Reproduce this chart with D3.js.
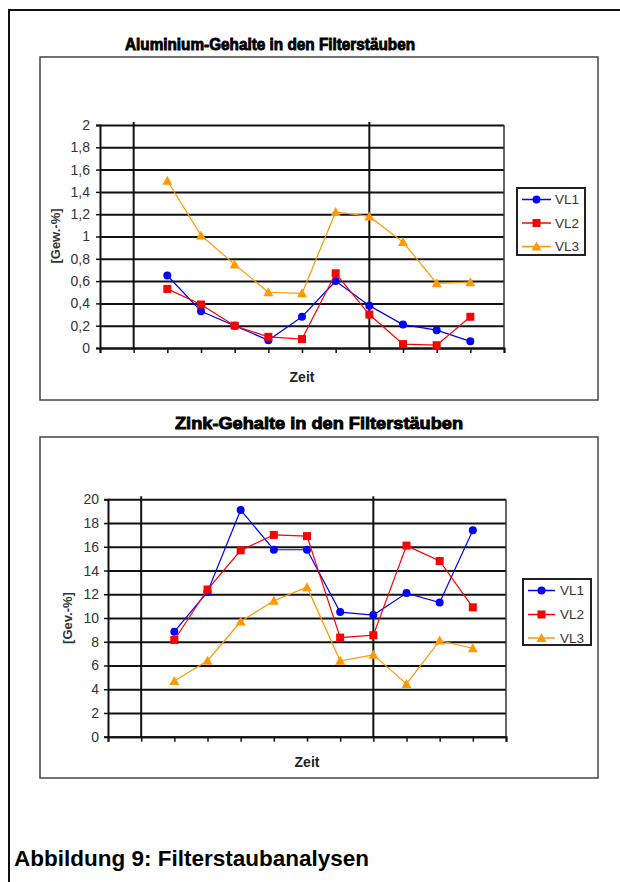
<!DOCTYPE html>
<html>
<head>
<meta charset="utf-8">
<script src="https://cdn.jsdelivr.net/npm/d3@7"></script>
<style>
  html, body { margin: 0; padding: 0; background: #fff; }
  svg { display: block; }
  text { font-family: "Liberation Sans", Arial, sans-serif; }
</style>
</head>
<body>
<svg id="chart" width="620" height="882"></svg>
<script>
// ---------- data ----------
const categories = ["P0", "P1", "P2", "P3", "P4", "P5", "P6", "P7", "P8", "P9", "P10", "P11", "P12"];
const seriesNames = ["VL1", "VL2", "VL3"];
const seriesColors = ["#0000FF", "#FF0000", "#FF9900"];

const alVL1 = [null, null, 0.65, 0.33, 0.20, 0.07, 0.28, 0.60, 0.38, 0.21, 0.16, 0.06, null];
const alVL2 = [null, null, 0.53, 0.39, 0.20, 0.10, 0.08, 0.67, 0.30, 0.035, 0.025, 0.28, null];
const alVL3 = [null, null, 1.50, 1.01, 0.75, 0.50, 0.49, 1.22, 1.18, 0.95, 0.58, 0.59, null];

const znVL1 = [null, null, 8.85, 12.2, 19.1, 15.75, 15.75, 10.5, 10.25, 12.1, 11.3, 17.4, null];
const znVL2 = [null, null, 8.15, 12.4, 15.7, 17.0, 16.9, 8.35, 8.55, 16.1, 14.8, 10.9, null];
const znVL3 = [null, null, 4.7, 6.4, 9.7, 11.45, 12.6, 6.4, 6.9, 4.45, 8.1, 7.45, null];

const alTicks = [0, 0.2, 0.4, 0.6, 0.8, 1, 1.2, 1.4, 1.6, 1.8, 2];
const znTicks = [0, 2, 4, 6, 8, 10, 12, 14, 16, 18, 20];
const verticalGridCats = ["P1", "P8"];

const alTitle = "Aluminium-Gehalte  in den Filterstäuben";
const znTitle = "Zink-Gehalte in den Filterstäuben";
const alYTitle = "[Gew.-%]";
const znYTitle = "[Gev.-%]";
const xTitle = "Zeit";
const caption = "Abbildung 9: Filterstaubanalysen";

// ---------- drawing ----------
const svg = d3.select("#chart");

// outer frame
svg.append("path")
  .attr("d", "M9,882 V10 H620")
  .attr("fill", "none").attr("stroke", "#111").attr("stroke-width", 2);

const fmt = d => String(+(+d).toFixed(1)).replace(".", ",");

function drawChart(cfg) {
  const g = svg.append("g");
  // chart box
  g.append("rect")
    .attr("x", cfg.box[0]).attr("y", cfg.box[1])
    .attr("width", cfg.box[2] - cfg.box[0]).attr("height", cfg.box[3] - cfg.box[1])
    .attr("fill", "#fff").attr("stroke", "#444").attr("stroke-width", 1.5);

  // title
  g.append("text")
    .attr("x", cfg.titlePos[0]).attr("y", cfg.titlePos[1])
    .attr("text-anchor", "middle")
    .attr("dominant-baseline", "central")
    .attr("font-family", "'Liberation Sans Narrow', 'DejaVu Sans Condensed', Arial, sans-serif")
    .attr("font-weight", "bold")
    .attr("font-size", 17)
    .attr("textLength", cfg.titleWidth)
    .attr("lengthAdjust", "spacingAndGlyphs")
    .attr("fill", "#000")
    .style("stroke", "#000").style("stroke-width", 0.9)
    .text(cfg.title);

  const [L, T, R, B] = cfg.plot;
  const x = d3.scalePoint().domain(categories).range([L, R]).padding(0);
  const y = d3.scaleLinear().domain([cfg.ticks[0], cfg.ticks[cfg.ticks.length - 1]]).range([B, T]);

  // horizontal gridlines
  g.append("g")
    .attr("transform", `translate(${L},0)`)
    .call(d3.axisLeft(y).tickValues(cfg.ticks).tickSize(-(R - L)).tickFormat(""))
    .call(s => s.select(".domain").remove())
    .call(s => s.selectAll("line").attr("stroke", "#111").attr("stroke-width", 2));

  // vertical gridlines
  g.selectAll(".vgrid").data(verticalGridCats).enter().append("line")
    .attr("x1", d => x(d)).attr("x2", d => x(d))
    .attr("y1", T - 3).attr("y2", B)
    .attr("stroke", "#111").attr("stroke-width", 2);

  // right border of plot area
  g.append("line")
    .attr("x1", R).attr("x2", R).attr("y1", T).attr("y2", B)
    .attr("stroke", "#333").attr("stroke-width", 1.5);

  // y axis
  g.append("g")
    .attr("transform", `translate(${L},0)`)
    .call(d3.axisLeft(y).tickValues(cfg.ticks).tickSize(4).tickPadding(cfg.labelPad).tickFormat(fmt))
    .call(s => s.select(".domain").attr("stroke", "#111").attr("stroke-width", 2))
    .call(s => s.selectAll("line").attr("stroke", "#111").attr("stroke-width", 1.5))
    .call(s => s.selectAll("text")
      .attr("font-family", "'Liberation Sans', Arial, sans-serif")
      .attr("font-size", 14).attr("fill", "#333"));

  // x axis (category labels not visible in the original)
  g.append("g")
    .attr("transform", `translate(0,${B})`)
    .call(d3.axisBottom(x).tickSize(5).tickFormat(""))
    .call(s => s.select(".domain").attr("stroke", "#111").attr("stroke-width", 2))
    .call(s => s.selectAll("line").attr("stroke", "#111").attr("stroke-width", 1.5));

  // axis titles
  g.append("text")
    .attr("x", cfg.xTitlePos[0]).attr("y", cfg.xTitlePos[1])
    .attr("text-anchor", "middle").attr("dominant-baseline", "central")
    .attr("font-size", 14).attr("font-weight", "bold").attr("fill", "#222")
    .text(xTitle);
  g.append("text")
    .attr("transform", `translate(${cfg.yTitlePos[0]},${cfg.yTitlePos[1]}) rotate(-90)`)
    .attr("text-anchor", "middle").attr("dominant-baseline", "central")
    .attr("font-size", 13).attr("font-weight", "bold").attr("fill", "#333")
    .text(cfg.yTitle);

  // series
  const line = d3.line()
    .defined(d => d.v != null)
    .x(d => x(d.c)).y(d => y(d.v));

  cfg.series.forEach((vals, i) => {
    const pts = vals.map((v, k) => ({ c: categories[k], v }));
    g.append("path").datum(pts)
      .attr("d", line).attr("fill", "none")
      .attr("stroke", seriesColors[i]).attr("stroke-width", 1.2);
    const valid = pts.filter(d => d.v != null);
    drawMarkers(g, valid.map(d => [x(d.c), y(d.v)]), i);
  });

  // legend
  const lg = cfg.legend;
  g.append("rect")
    .attr("x", lg.box[0]).attr("y", lg.box[1])
    .attr("width", lg.box[2] - lg.box[0]).attr("height", lg.box[3] - lg.box[1])
    .attr("fill", "#fff").attr("stroke", "#222").attr("stroke-width", 2);
  seriesNames.forEach((name, i) => {
    const yy = lg.rows[i];
    g.append("line")
      .attr("x1", lg.lineX[0]).attr("x2", lg.lineX[1]).attr("y1", yy).attr("y2", yy)
      .attr("stroke", seriesColors[i]).attr("stroke-width", 1.5);
    drawMarkers(g, [[(lg.lineX[0] + lg.lineX[1]) / 2, yy]], i);
    g.append("text")
      .attr("x", lg.textX).attr("y", yy)
      .attr("dominant-baseline", "central")
      .attr("font-size", 13.5).attr("fill", "#333")
      .text(name);
  });
}

function drawMarkers(g, pts, i) {
  const c = seriesColors[i];
  pts.forEach(([px, py]) => {
    if (i === 0) {
      g.append("circle").attr("cx", px).attr("cy", py).attr("r", 4).attr("fill", c);
    } else if (i === 1) {
      g.append("rect").attr("x", px - 4).attr("y", py - 4).attr("width", 8).attr("height", 8).attr("fill", c);
    } else {
      g.append("path")
        .attr("d", `M${px},${py - 5} L${px + 5},${py + 4} L${px - 5},${py + 4} Z`)
        .attr("fill", c);
    }
  });
}

drawChart({
  box: [40, 57, 598, 400],
  title: alTitle, titlePos: [270, 44], titleWidth: 290,
  plot: [100, 125, 504, 348],
  ticks: alTicks, labelPad: 6,
  yTitle: alYTitle, yTitlePos: [55, 236],
  xTitlePos: [302, 377],
  series: [alVL1, alVL2, alVL3],
  legend: { box: [517, 188, 585, 255], rows: [199.5, 223, 246.5], lineX: [522, 551], textX: 555 }
});

drawChart({
  box: [40, 437, 598, 778],
  title: znTitle, titlePos: [319, 423], titleWidth: 288,
  plot: [108, 499.3, 506, 736.7],
  ticks: znTicks, labelPad: 5,
  yTitle: znYTitle, yTitlePos: [67, 618],
  xTitlePos: [307, 762],
  series: [znVL1, znVL2, znVL3],
  legend: { box: [523, 579, 591, 645], rows: [590.5, 614.5, 638], lineX: [528, 555], textX: 560 }
});

// caption
svg.append("text")
  .attr("x", 14).attr("y", 866)
  .attr("font-family", "'Liberation Sans', Arial, sans-serif")
  .attr("font-size", 22.5).attr("font-weight", "bold").attr("fill", "#000")
  .text(caption);
</script>
</body>
</html>
